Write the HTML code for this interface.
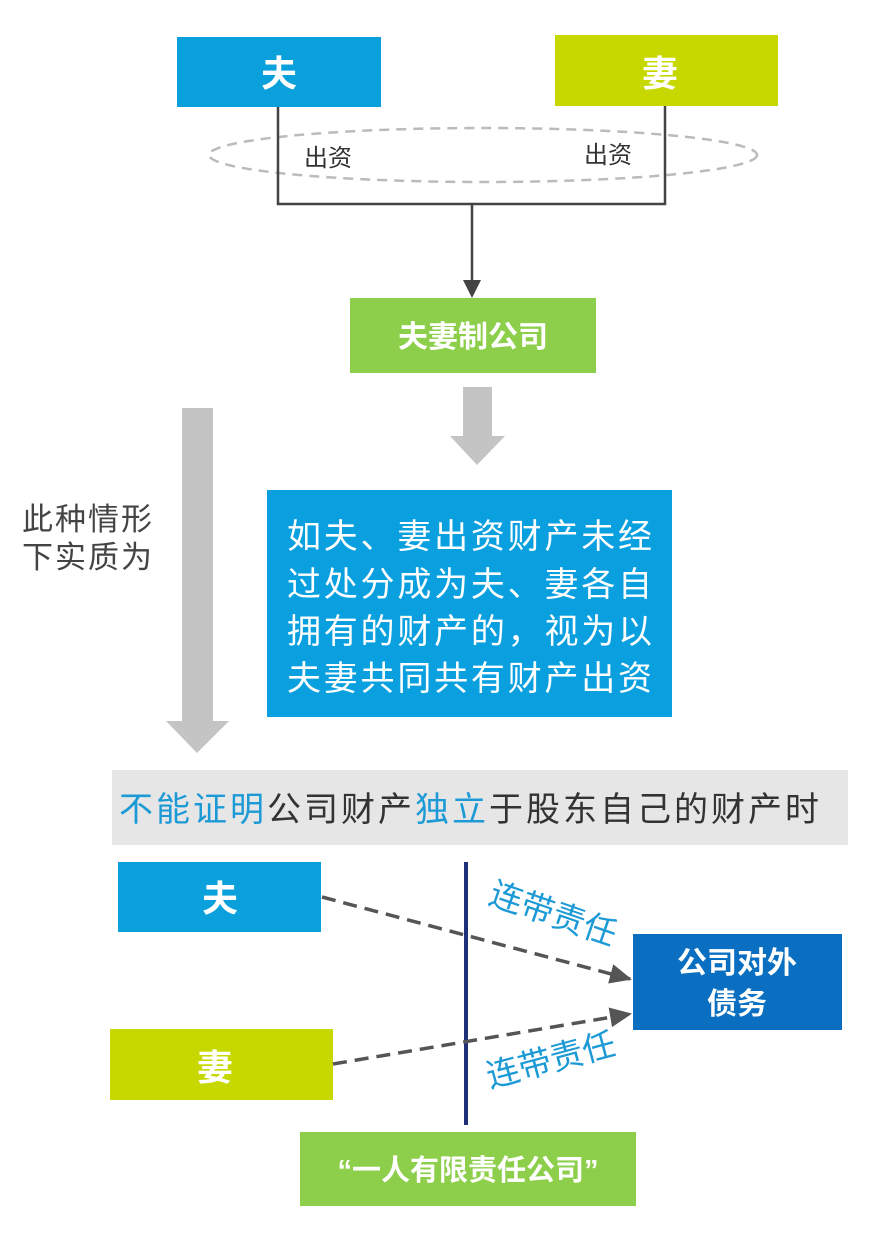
<!DOCTYPE html>
<html><head><meta charset="utf-8"><style>
html,body{margin:0;padding:0;background:#fff}
svg{display:block}
text{font-family:"Liberation Sans","Noto Sans CJK SC",sans-serif}
</style></head><body>
<svg width="895" height="1242" viewBox="0 0 895 1242" xmlns="http://www.w3.org/2000/svg">
<defs>
<marker id="ah2" markerWidth="22" markerHeight="20" refX="20" refY="10" orient="auto" markerUnits="userSpaceOnUse"><path d="M0,0 L22,10 L0,20 z" fill="#555"/></marker>
</defs>
<rect x="177" y="37" width="204" height="70" fill="#0aa0dc"/>
<text x="279" y="86" font-size="36" font-weight="bold" fill="#fff" text-anchor="middle">夫</text>
<rect x="555" y="35" width="223" height="71" fill="#c6d800"/>
<text x="660" y="86" font-size="36" font-weight="bold" fill="#fff" text-anchor="middle">妻</text>
<ellipse cx="483" cy="155" rx="274" ry="27" fill="none" stroke="#bbb" stroke-width="2.5" stroke-dasharray="10,7"/>
<polyline points="278,107 278,204 665,204 665,106" fill="none" stroke="#444" stroke-width="2.5"/>
<line x1="472" y1="204" x2="472" y2="282" stroke="#444" stroke-width="2.5"/>
<path d="M463,280 L481,280 L472,298 z" fill="#444"/>
<text x="304" y="166" font-size="24" fill="#333">出资</text>
<text x="584" y="163" font-size="24" fill="#333">出资</text>
<rect x="350" y="298" width="246" height="75" fill="#8dcf4b"/>
<text x="473" y="347" font-size="30" font-weight="bold" fill="#fff" text-anchor="middle">夫妻制公司</text>
<rect x="463" y="387" width="29" height="50" fill="#c4c4c4"/>
<path d="M450,436 L505,436 L477,465 z" fill="#c4c4c4"/>
<rect x="182" y="408" width="31" height="315" fill="#c4c4c4"/>
<path d="M166,721 L229,721 L197,753 z" fill="#c4c4c4"/>
<text x="22" y="530" font-size="31" fill="#444" textLength="130">此种情形</text>
<text x="22" y="568" font-size="31" fill="#444" textLength="130">下实质为</text>
<rect x="267" y="490" width="405" height="227" fill="#0aa0e0"/>
<g font-size="34" fill="#fff">
<text x="287" y="548" textLength="365">如夫、妻出资财产未经</text>
<text x="287" y="596" textLength="365">过处分成为夫、妻各自</text>
<text x="287" y="643" textLength="365">拥有的财产的，视为以</text>
<text x="287" y="690" textLength="365">夫妻共同共有财产出资</text>
</g>
<rect x="112" y="770" width="736" height="75" fill="#e6e6e6"/>
<text x="119" y="821" font-size="34" fill="#333" textLength="700"><tspan fill="#1c9ad6">不能证明</tspan>公司财产<tspan fill="#1c9ad6">独立</tspan>于股东自己的财产时</text>
<rect x="118" y="862" width="203" height="70" fill="#0aa0dc"/>
<text x="220" y="911" font-size="36" font-weight="bold" fill="#fff" text-anchor="middle">夫</text>
<rect x="110" y="1029" width="223" height="71" fill="#c6d800"/>
<text x="215" y="1080" font-size="36" font-weight="bold" fill="#fff" text-anchor="middle">妻</text>
<line x1="466" y1="862" x2="466" y2="1125" stroke="#1f2f7a" stroke-width="4"/>
<rect x="633" y="934" width="209" height="96" fill="#0a6fc0"/>
<text x="737" y="973" font-size="30" font-weight="bold" fill="#fff" text-anchor="middle">公司对外</text>
<text x="737" y="1014" font-size="30" font-weight="bold" fill="#fff" text-anchor="middle">债务</text>
<line x1="322" y1="897" x2="630" y2="979" stroke="#555" stroke-width="3.5" stroke-dasharray="14,8" marker-end="url(#ah2)"/>
<line x1="333" y1="1064" x2="630" y2="1014" stroke="#555" stroke-width="3.5" stroke-dasharray="14,8" marker-end="url(#ah2)"/>
<text x="0" y="0" font-size="33" fill="#1c9ad6" transform="translate(487,903) rotate(19)">连带责任</text>
<text x="0" y="0" font-size="33" fill="#1c9ad6" transform="translate(490,1088) rotate(-15)">连带责任</text>
<rect x="300" y="1132" width="336" height="74" fill="#8dcf4b"/>
<text x="468" y="1180" font-size="29" font-weight="bold" fill="#fff" text-anchor="middle">“一人有限责任公司”</text>
</svg>
</body></html>
